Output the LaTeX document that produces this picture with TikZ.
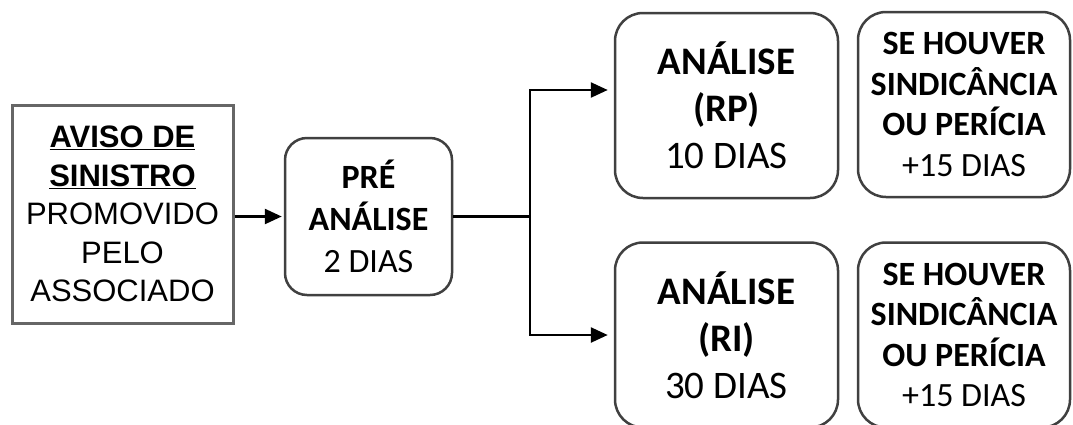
\documentclass[tikz,border=0pt]{standalone}
\usepackage{fontspec}
\setmainfont{Carlito}
\newfontfamily\arialfont{Liberation Sans}
\usepackage{tikz}
\usetikzlibrary{arrows.meta, positioning}

\begin{document}
\begin{tikzpicture}[x=1pt, y=-1pt, semithick,
                    >={Triangle[length=17pt,width=15pt]}]
  \tikzstyle{box}=[draw=black!75, line width=2.5pt, align=center, inner sep=0pt]
  \tikzstyle{stage}=[box, rounded corners=28pt, minimum width=223pt, minimum height=185pt,
                     font=\fontsize{39}{47}\selectfont]
  \tikzstyle{extra}=[box, rounded corners=28pt, minimum width=212pt, minimum height=185pt,
                     font=\fontsize{34}{40.5}\selectfont]
  \tikzstyle{flow}=[->, draw=black, line width=2.5pt, shorten >=6pt]

  \useasboundingbox[fill=white] (0,0) rectangle (1073,424);

  \node[box, draw=black!60, line width=3pt, minimum width=221pt, minimum height=218pt,
        font=\arialfont\fontsize{31}{38.5}\selectfont]
        (aviso) at (122.5,214)
        {\textbf{\underline{AVISO DE}}\\\textbf{\underline{SINISTRO}}\\PROMOVIDO\\PELO\\ASSOCIADO};
  \node[box, rounded corners=22pt, minimum width=167pt, minimum height=157pt,
        font=\fontsize{34}{42}\selectfont]
        (pre) at (368.5,216.5) {\textbf{PRÉ}\\\textbf{ANÁLISE}\\2 DIAS};

  \node[stage] (rp) at (726.5,105.5) {\textbf{ANÁLISE}\\\textbf{(RP)}\\10 DIAS};
  \node[extra] (se1) at (964,104.5)
        {\textbf{SE HOUVER}\\\textbf{SINDICÂNCIA}\\\textbf{OU PERÍCIA}\\+15 DIAS};
  \node[stage] (ri) at (726.5,335) {\textbf{ANÁLISE}\\\textbf{(RI)}\\30 DIAS};
  \node[extra] (se2) at (964,335)
        {\textbf{SE HOUVER}\\\textbf{SINDICÂNCIA}\\\textbf{OU PERÍCIA}\\+15 DIAS};

  \coordinate (split) at (530,216.5);

  \draw[flow, shorten >=2pt] (aviso.east |- pre.west) -- (pre.west);
  \draw[line width=2.5pt] (pre.east) -- (split);
  \draw[flow] (split) |- ([yshift=15.5pt]rp.west);
  \draw[flow] (split) |- (ri.west);
\end{tikzpicture}
\end{document}
